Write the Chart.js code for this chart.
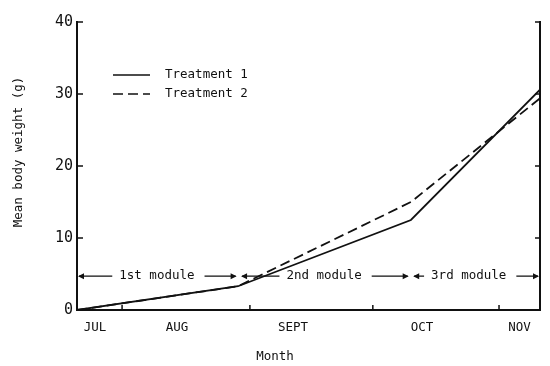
<!DOCTYPE html>
<html>
<head>
<meta charset="utf-8">
<script src="https://cdn.jsdelivr.net/npm/chart.js@4"></script>
<style>
  html, body { margin: 0; padding: 0; background: #fff; }
  #wrap { width: 550px; height: 366px; }
</style>
</head>
<body>
<div id="wrap"><canvas id="myChart"></canvas></div>
<script>
// days since start of July
const days = [0, 39.3, 81.5, 113];
const treatment1 = [0, 3.3, 12.5, 30.6];
const treatment2 = [0, 3.3, 15.0, 29.4];

const monthLabels = ['JUL', 'AUG', 'SEPT', 'OCT', 'NOV'];
const monthLabelDays = [4.4, 24.4, 52.7, 84.2, 108];
const monthTickDays = [11, 42.2, 72.2, 103];
const yTicks = [0, 10, 20, 30, 40];

const moduleNames = ['1st module', '2nd module', '3rd module'];
const moduleStart = [0, 39.8, 81.8];
const moduleEnd = [39.2, 81.2, 113];
const moduleTextAt = [19.5, 60.3, 95.6];
const moduleLevel = 4.7;

const ink = '#111';
const mono = '"DejaVu Sans Mono", monospace';

function arrowHead(ctx, x, y, dir) {
    ctx.beginPath();
    ctx.moveTo(x, y);
    ctx.lineTo(x - dir * 6, y - 3);
    ctx.lineTo(x - dir * 6, y + 3);
    ctx.closePath();
    ctx.fill();
}

const extras = {
    id: 'extras',
    afterDraw(chart) {
        const ctx = chart.ctx;
        const x = chart.scales.x, y = chart.scales.y;
        const area = chart.chartArea;
        ctx.save();
        ctx.strokeStyle = ink;
        ctx.fillStyle = ink;

        // inward tick marks
        ctx.lineWidth = 1.5;
        ctx.beginPath();
        monthTickDays.forEach(d => {
            const px = x.getPixelForValue(d);
            ctx.moveTo(px, area.bottom);
            ctx.lineTo(px, area.bottom - 5);
        });
        yTicks.forEach(v => {
            const py = y.getPixelForValue(v);
            ctx.moveTo(area.left, py);
            ctx.lineTo(area.left + 6, py);
            ctx.moveTo(area.right, py);
            ctx.lineTo(area.right - 5, py);
        });
        ctx.stroke();

        // module arrows
        ctx.font = '12.5px ' + mono;
        ctx.textAlign = 'center';
        ctx.textBaseline = 'middle';
        ctx.lineWidth = 1.2;
        const my = y.getPixelForValue(moduleLevel);
        moduleNames.forEach((name, i) => {
            const x0 = x.getPixelForValue(moduleStart[i]);
            const x1 = x.getPixelForValue(moduleEnd[i]);
            const xc = x.getPixelForValue(moduleTextAt[i]);
            const half = ctx.measureText(name).width / 2;
            ctx.fillText(name, xc, my);
            ctx.beginPath();
            ctx.moveTo(x0 + 2, my);
            ctx.lineTo(xc - half - 7, my);
            ctx.moveTo(xc + half + 10, my);
            ctx.lineTo(x1 - 2, my);
            ctx.stroke();
            arrowHead(ctx, x0 + 1, my, -1);
            arrowHead(ctx, x1 - 1, my, 1);
        });

        // legend
        ctx.textAlign = 'left';
        chart.data.datasets.forEach((ds, i) => {
            const ly = area.top + 53 + i * 19;
            const lx = area.left + 36;
            ctx.lineWidth = 1.5;
            ctx.setLineDash(ds.borderDash || []);
            ctx.beginPath();
            ctx.moveTo(lx, ly);
            ctx.lineTo(lx + 37, ly);
            ctx.stroke();
            ctx.setLineDash([]);
            ctx.fillText(ds.label, lx + 52, ly);
        });

        // axis titles
        ctx.font = '12.5px ' + mono;
        ctx.textAlign = 'center';
        ctx.fillText('Month', 275, 357);
        ctx.save();
        ctx.translate(19, 152);
        ctx.rotate(-Math.PI / 2);
        ctx.fillText('Mean body weight (g)', 0, 0);
        ctx.restore();

        ctx.restore();
    }
};

new Chart(document.getElementById('myChart'), {
    type: 'line',
    data: {
        datasets: [{
            label: 'Treatment 1',
            data: days.map((d, i) => ({ x: d, y: treatment1[i] })),
            borderColor: ink,
            borderWidth: 1.8,
            pointRadius: 0,
            tension: 0
        }, {
            label: 'Treatment 2',
            data: days.map((d, i) => ({ x: d, y: treatment2[i] })),
            borderColor: ink,
            borderWidth: 1.8,
            borderDash: [10, 5],
            pointRadius: 0,
            tension: 0
        }]
    },
    options: {
        responsive: true,
        maintainAspectRatio: false,
        animation: false,
        layout: { padding: { top: 22, left: 0, right: 0, bottom: 0 } },
        plugins: { legend: { display: false }, tooltip: { enabled: false } },
        scales: {
            x: {
                type: 'linear',
                min: 0,
                max: 113,
                afterBuildTicks: s => { s.ticks = monthLabelDays.map(v => ({ value: v })); },
                afterFit: s => { s.height = 56; },
                ticks: {
                    autoSkip: false,
                    maxRotation: 0,
                    padding: 2,
                    color: ink,
                    font: { family: mono, size: 12.5 },
                    callback: (v, i) => monthLabels[i]
                },
                grid: { display: false },
                border: { display: true, color: ink, width: 2 }
            },
            y: {
                min: 0,
                max: 40,
                afterBuildTicks: s => { s.ticks = yTicks.map(v => ({ value: v })); },
                afterFit: s => { s.width = 77; },
                ticks: {
                    padding: -4,
                    color: ink,
                    font: { family: mono, size: 15 }
                },
                grid: { display: false },
                border: { display: true, color: ink, width: 2 }
            },
            y2: {
                position: 'right',
                min: 0,
                max: 40,
                afterFit: s => { s.width = 10; },
                ticks: { display: false },
                grid: { display: false },
                border: { display: true, color: ink, width: 2 }
            }
        }
    },
    plugins: [extras]
});
</script>
</body>
</html>
